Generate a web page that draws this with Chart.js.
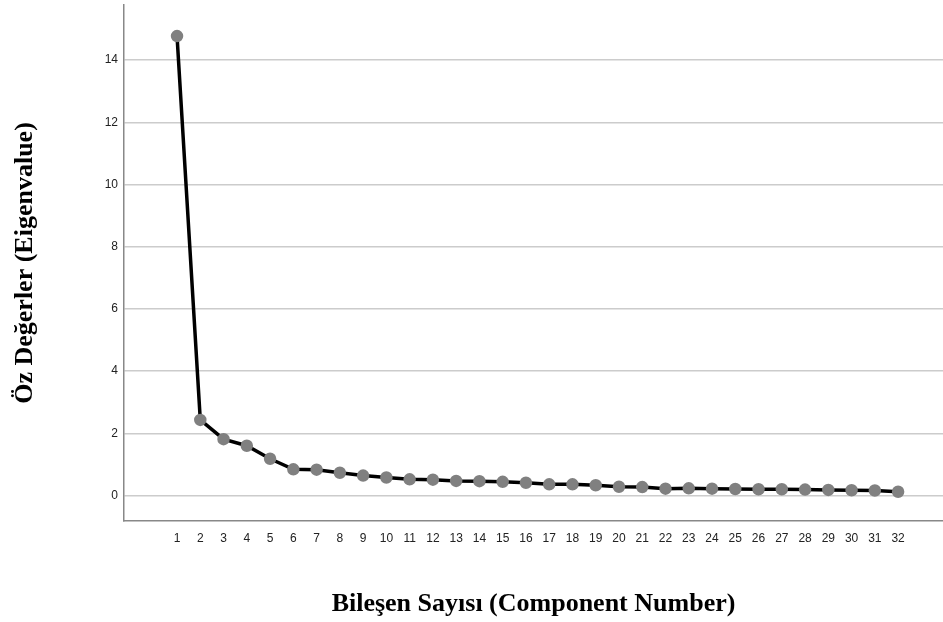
<!DOCTYPE html>
<html>
<head>
<meta charset="utf-8">
<script src="https://cdn.jsdelivr.net/npm/chart.js@4/dist/chart.umd.min.js"></script>
<style>
  html, body { margin: 0; padding: 0; background: #fff; }
  #wrap { width: 943px; height: 622px; }
</style>
</head>
<body>
<div id="wrap"><canvas id="myChart" width="943" height="622"></canvas></div>
<script>
var components = [1,2,3,4,5,6,7,8,9,10,11,12,13,14,15,16,17,18,19,20,21,22,23,24,25,26,27,28,29,30,31,32];
var eigenvalues = [14.77,2.43,1.81,1.60,1.18,0.84,0.83,0.73,0.64,0.58,0.52,0.51,0.47,0.46,0.44,0.41,
                   0.36,0.36,0.33,0.28,0.27,0.22,0.23,0.22,0.21,0.20,0.20,0.19,0.18,0.17,0.16,0.12];
var yTicks = [0,2,4,6,8,10,12,14];

var points = components.map(function (c, i) { return { x: c, y: eigenvalues[i] }; });

var ctx = document.getElementById("myChart");
var myChart = new Chart(ctx, {
  type: 'line',
  data: {
    datasets: [
      {
        data: points,
        borderColor: "#000000",
        borderWidth: 3.5,
        pointBackgroundColor: "#808080",
        pointBorderColor: "#808080",
        pointRadius: 4.5,
        tension: 0,
        fill: false,
        clip: false
      }
    ]
  },
  options: {
    responsive: false,
    animation: false,
    layout: { autoPadding: false, padding: { top: 5, right: 0, left: 0, bottom: 0 } },
    plugins: { legend: { display: false }, tooltip: { enabled: false } },
    scales: {
      x: {
        type: 'linear',
        min: -1.28,
        max: 33.93,
        afterBuildTicks: function (scale) {
          scale.ticks = components.map(function (v) { return { value: v }; });
        },
        afterFit: function (scale) {
          scale.height = 101;
          scale.paddingLeft = 0;
          scale.paddingRight = 0;
        },
        grid: { display: false, drawTicks: false },
        border: { display: true, color: '#888888', width: 1.5 },
        ticks: {
          autoSkip: false,
          maxRotation: 0,
          padding: 10,
          color: '#222222',
          font: { family: 'Liberation Sans, Arial', size: 12 }
        },
        title: {
          display: true,
          text: 'Bileşen Sayısı (Component Number)',
          color: '#000000',
          padding: { top: 0, bottom: 2 },
          font: { family: 'Liberation Serif, Times New Roman', size: 26, weight: 'bold' }
        }
      },
      y: {
        min: -0.82,
        max: 15.77,
        afterBuildTicks: function (scale) {
          scale.ticks = yTicks.map(function (v) { return { value: v }; });
        },
        afterFit: function (scale) {
          scale.width = 124;
          scale.paddingTop = 0;
          scale.paddingBottom = 0;
        },
        grid: { color: '#cccccc', lineWidth: 1.5, drawTicks: false },
        border: { display: true, color: '#888888', width: 1.5 },
        ticks: {
          padding: 6,
          color: '#222222',
          font: { family: 'Liberation Sans, Arial', size: 12 }
        },
        title: {
          display: true,
          text: 'Öz Değerler (Eigenvalue)',
          color: '#000000',
          padding: { top: 10, bottom: 0 },
          font: { family: 'Liberation Serif, Times New Roman', size: 26, weight: 'bold' }
        }
      }
    }
  }
});
</script>
</body>
</html>
